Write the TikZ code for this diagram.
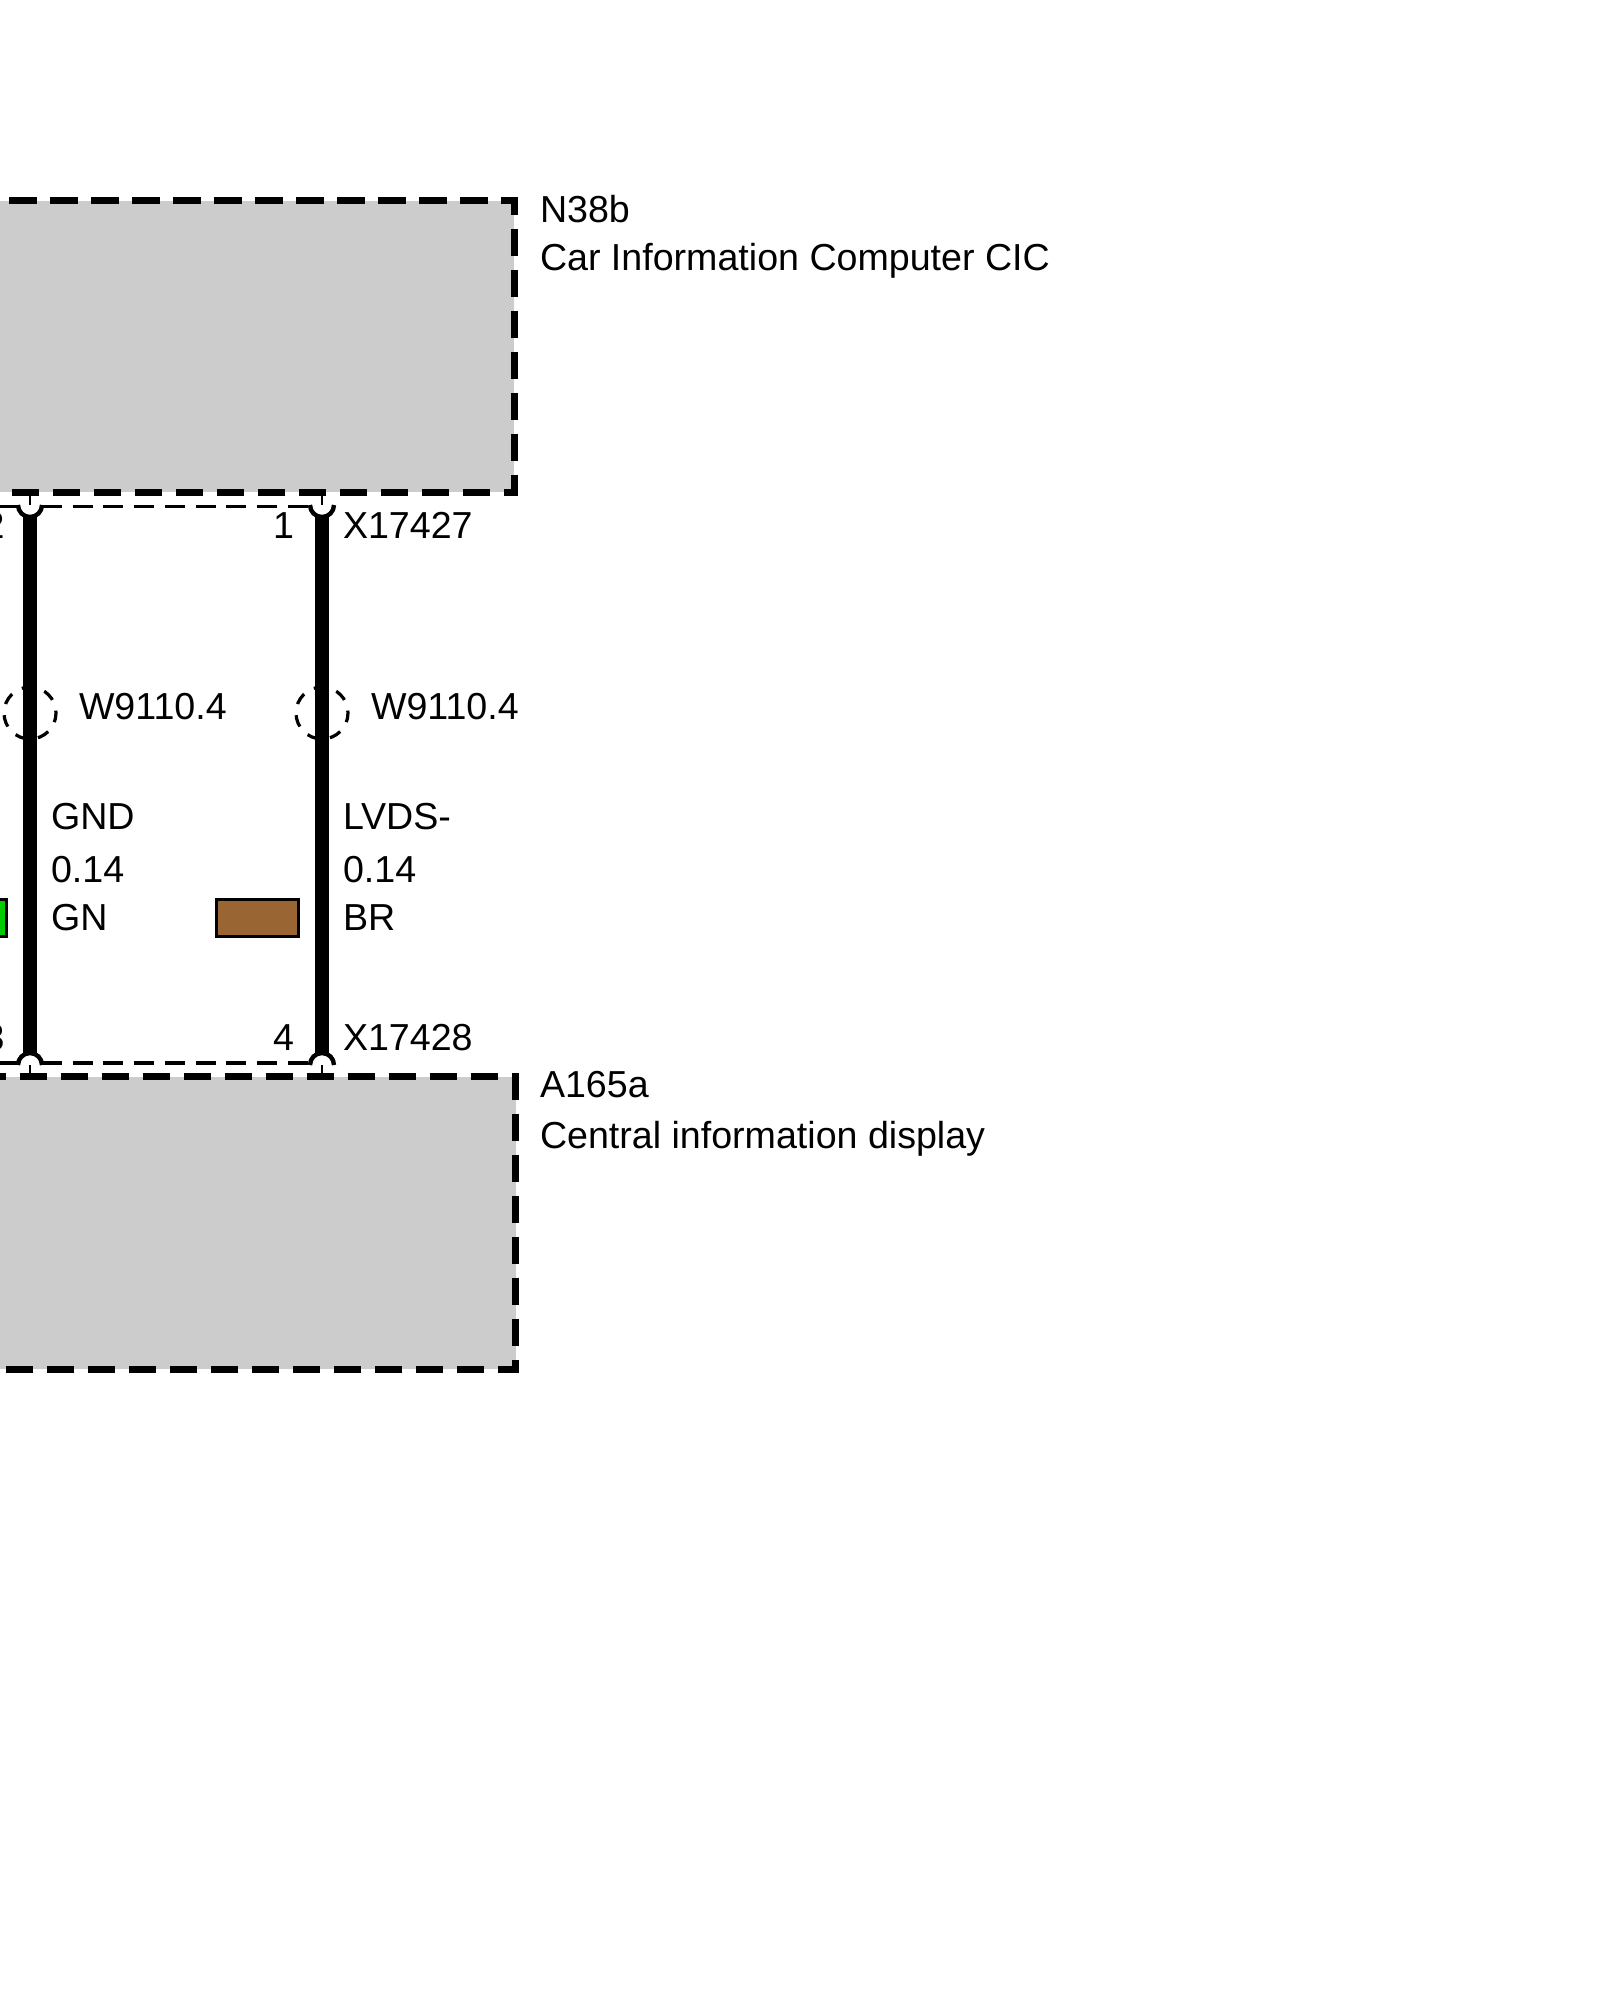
\documentclass[tikz,border=0pt]{standalone}
\usepackage{fontspec}
\setmainfont{Liberation Sans}
\definecolor{boxgray}{HTML}{CCCCCC}
\definecolor{wirebrown}{HTML}{996633}
\definecolor{wiregreen}{HTML}{00CC00}
\tikzset{
  x=0.5pt,y=-0.5pt,
  lbl/.style={inner sep=0pt,outer sep=0pt,anchor=base west,font=\fontsize{18.8}{22}\selectfont},
  pinlbl/.style={inner sep=0pt,outer sep=0pt,anchor=base east,font=\fontsize{18.8}{22}\selectfont},
  graybox/.style={fill=boxgray,inner sep=0pt,outer sep=0pt,anchor=north east,minimum width=268pt,minimum height=145.5pt},
  boxline/.style={line width=3.5pt,dash pattern=on 13.75pt off 6.75pt},
  wire/.style={line width=7pt},
  conline/.style={line width=1.6pt,dash pattern=on 10pt off 5.35pt},
  pincup/.style={line width=2.2pt},
  pintick/.style={line width=1pt},
  shield/.style={circle,draw,line width=1.6pt,minimum size=26pt,inner sep=0pt,outer sep=0pt,dash pattern=on 6pt off 5.67pt,dash phase=4.8pt},
  swatch/.style={draw,line width=1.5pt,inner sep=0pt,outer sep=0pt,minimum width=41pt,minimum height=18.5pt}
}
\begin{document}
\begin{tikzpicture}
\useasboundingbox (0,0) rectangle (1600,2000);
\clip (0,0) rectangle (1600,2000);
% modules
\node[graybox] (n38) at (514,201) {};
\node[graybox,minimum height=146.25pt] (a165) at (515.5,1076.5) {};
\draw[boxline,dash phase=5pt] (n38.north west) -- (n38.north east) -- (n38.south east) -- (n38.south west);
\draw[boxline,dash phase=0.5pt] (a165.north west) -- (a165.north east) -- (a165.south east) -- (a165.south west);
% pins
\coordinate (p2t) at (30,505);
\coordinate (p1t) at (322,505);
\coordinate (p3b) at (30,1065);
\coordinate (p4b) at (322,1065);
\coordinate (p2m) at (n38.south west -| p2t);
\coordinate (p1m) at (n38.south west -| p1t);
\coordinate (p3m) at (a165.north west -| p3b);
\coordinate (p4m) at (a165.north west -| p4b);
% connector outlines
\draw[conline] ([xshift=6pt,yshift=-0.75pt]p2t) -- ([xshift=-6pt,yshift=-0.75pt]p1t);
\draw[conline] ([xshift=6pt,yshift=1pt]p3b) -- ([xshift=-6pt,yshift=1pt]p4b);
\draw[conline,dash phase=0pt] ([xshift=-6pt,yshift=-0.75pt]p2t) -- ([xshift=-20pt,yshift=-0.75pt]p2t);
\draw[conline,dash phase=0pt] ([xshift=-6pt,yshift=1pt]p3b) -- ([xshift=-20pt,yshift=1pt]p3b);
% wires
\draw[wire] ([yshift=-6pt]p2t) -- ([yshift=6pt]p3b);
\draw[wire] ([yshift=-6pt]p1t) -- ([yshift=6pt]p4b);
% pin cups and ticks
\foreach \p in {p2t,p1t}{
  \draw[pincup] ([xshift=-6pt]\p) arc[start angle=180,end angle=360,x radius=6pt,y radius=6pt];
}
\foreach \p in {p3b,p4b}{
  \draw[pincup] ([xshift=-6pt]\p) arc[start angle=180,end angle=0,radius=6pt];
}
\draw[pintick] (p2m) -- (p2t);
\draw[pintick] (p1m) -- (p1t);
\draw[pintick] (p3m) -- (p3b);
\draw[pintick] (p4m) -- (p4b);
% shields
\node[shield] (s2) at (30,713) {};
\node[shield] (s1) at (322,713) {};
% colour swatches
\node[swatch,fill=wiregreen] (sg) at (-35,917.5) {};
\node[swatch,fill=wirebrown] (sb) at (257,917.5) {};
% labels
\node[lbl] (t1) at (540,223) {N38b};
\node[lbl] (t2) at (540,271) {Car Information Computer CIC};
\node[lbl] (t3) at (343,538) {X17427};
\node[pinlbl] (t4) at (294,538) {1};
\node[pinlbl] (t5) at (4.5,538) {2};
\node[lbl] (t6) at (79,719.5) {W9110.4};
\node[lbl] (t7) at (371,719.5) {W9110.4};
\node[lbl] (t8) at (51,829.5) {GND};
\node[lbl] (t9) at (343,829.5) {LVDS-};
\node[lbl] (t10) at (51,882.5) {0.14};
\node[lbl] (t11) at (343,882.5) {0.14};
\node[lbl] (t12) at (51,930.5) {GN};
\node[lbl] (t13) at (343,930.5) {BR};
\node[lbl] (t14) at (343,1050) {X17428};
\node[pinlbl] (t15) at (294,1050) {4};
\node[pinlbl] (t16) at (4.5,1050) {3};
\node[lbl] (t17) at (540,1097.5) {A165a};
\node[lbl] (t18) at (540,1148.5) {Central information display};
\end{tikzpicture}
\end{document}
